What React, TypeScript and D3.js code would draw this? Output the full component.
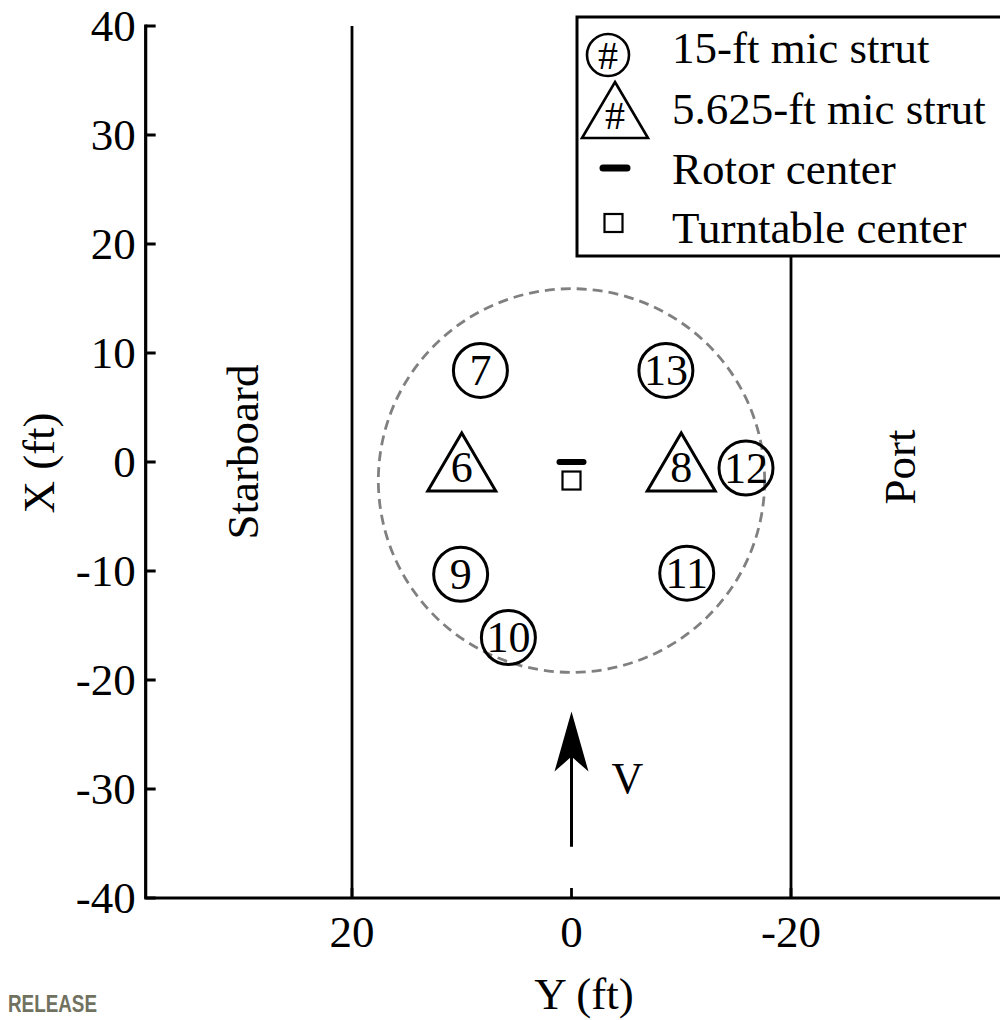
import React from "react";
import * as d3 from "d3";

// Microphone strut layout in the wind-tunnel test section (Y lateral, X streamwise)
const strut15ft = [
  { id: "7", y: 8.3, x: 8.4 },
  { id: "13", y: -8.6, x: 8.4 },
  { id: "12", y: -15.9, x: -0.55 },
  { id: "9", y: 10.1, x: -10.3 },
  { id: "11", y: -10.5, x: -10.2 },
  { id: "10", y: 5.75, x: -16.1 },
];
const strut5ft = [
  { id: "6", y: 10.0, x: 0 },
  { id: "8", y: -10.0, x: 0 },
];
const rotorCenter = { y: 0, x: 0 };
const turntableCenter = { y: 0, x: -1.7 };
const turntableRadius = 17.6;
const wallY = [20, -20];
const xTickValues = [20, 0, -20];
const yTickValues = [40, 30, 20, 10, 0, -10, -20, -30, -40];
const flowArrow = { y: 0, from: -35.3, to: -22.9 };
const legendItems = ["15-ft mic strut", "5.625-ft mic strut", "Rotor center", "Turntable center"];

const W = 1000;
const H = 1020;
const FONT = "'Liberation Serif', 'Times New Roman', Times, serif";

export default function App() {
  const sx = d3.scaleLinear().domain([20, -20]).range([352, 791]);
  const sy = d3.scaleLinear().domain([40, -40]).range([26, 898]);
  const axisLeftX = sx(38.8);
  const axisRightX = sx(-41);
  const yTop = sy(40);
  const yBottom = sy(-40);

  const r15 = 27;
  const triW = 68;
  const triH = 58;
  const triPath = (cx: number, cy: number, w: number, h: number) =>
    `M${cx},${cy - h / 2}L${cx + w / 2},${cy + h / 2}L${cx - w / 2},${cy + h / 2}Z`;

  const tcx = sx(turntableCenter.y);
  const tcy = sy(turntableCenter.x);
  const rx = Math.abs(sx(turntableRadius) - sx(0));
  const ry = Math.abs(sy(turntableRadius) - sy(0));

  const ax = sx(flowArrow.y);
  const aTip = sy(flowArrow.to);
  const aBase = sy(flowArrow.from);

  const legX = 577;
  const legTop = 17;
  const legBottom = 256;
  const legRows = [63, 124, 184, 243];
  const symX = 610;

  return (
    <svg
      width={W}
      height={H}
      style={{ position: "absolute", left: 0, top: 0, background: "#fff" }}
      fontFamily={FONT}
    >
      <rect width={W} height={H} fill="#fff" />

      {/* tunnel walls */}
      {wallY.map((v) => (
        <line key={v} x1={sx(v)} x2={sx(v)} y1={yTop} y2={yBottom} stroke="#000" strokeWidth={2.8} />
      ))}

      {/* turntable outline */}
      <ellipse cx={tcx} cy={tcy} rx={rx} ry={ry} fill="none" stroke="#808080" strokeWidth={2.8} strokeDasharray="10,6" />

      {/* axes */}
      <line x1={axisLeftX} x2={axisLeftX} y1={yTop - 1.5} y2={yBottom} stroke="#000" strokeWidth={3.2} />
      <line x1={axisLeftX - 1.5} x2={axisRightX} y1={yBottom} y2={yBottom} stroke="#000" strokeWidth={3.2} />
      {yTickValues.map((v) => (
        <g key={v}>
          <line x1={axisLeftX} x2={axisLeftX + 10} y1={sy(v)} y2={sy(v)} stroke="#000" strokeWidth={3} />
          <text x={axisLeftX - 10} y={sy(v) + 15} textAnchor="end" fontSize={45}>
            {v}
          </text>
        </g>
      ))}
      {xTickValues.map((v) => (
        <g key={v}>
          <line x1={sx(v)} x2={sx(v)} y1={yBottom} y2={yBottom - 10} stroke="#000" strokeWidth={2.8} />
          <text x={sx(v)} y={yBottom + 49} textAnchor="middle" fontSize={45}>
            {v}
          </text>
        </g>
      ))}

      {/* axis titles */}
      <text x={584} y={1009} textAnchor="middle" fontSize={45}>Y (ft)</text>
      <text transform={`translate(54,463) rotate(-90)`} textAnchor="middle" fontSize={45}>X (ft)</text>
      <text transform={`translate(258,452) rotate(-90)`} textAnchor="middle" fontSize={45}>Starboard</text>
      <text transform={`translate(915,467) rotate(-90)`} textAnchor="middle" fontSize={45}>Port</text>

      {/* 15-ft struts */}
      {strut15ft.map((d) => (
        <g key={d.id} transform={`translate(${sx(d.y)},${sy(d.x)})`}>
          <circle r={r15} fill="none" stroke="#000" strokeWidth={3} />
          <text y={15} textAnchor="middle" fontSize={44}>{d.id}</text>
        </g>
      ))}

      {/* 5.625-ft struts */}
      {strut5ft.map((d) => (
        <g key={d.id}>
          <path d={triPath(sx(d.y), sy(d.x), triW, triH)} fill="none" stroke="#000" strokeWidth={3} strokeLinejoin="miter" />
          <text x={sx(d.y)} y={sy(d.x) + 20} textAnchor="middle" fontSize={44}>{d.id}</text>
        </g>
      ))}

      {/* rotor and turntable centers */}
      <line x1={sx(rotorCenter.y) - 12} x2={sx(rotorCenter.y) + 12} y1={sy(rotorCenter.x)} y2={sy(rotorCenter.x)} stroke="#000" strokeWidth={6} strokeLinecap="round" />
      <rect x={tcx - 9} y={tcy - 9} width={18} height={18} fill="#fff" stroke="#000" strokeWidth={2.2} />

      {/* free-stream velocity arrow */}
      <line x1={ax} x2={ax} y1={aBase} y2={aTip + 40} stroke="#000" strokeWidth={3} />
      <path d={`M${ax},${aTip}L${ax + 17},${aTip + 60}L${ax},${aTip + 45}L${ax - 17},${aTip + 60}Z`} fill="#000" />
      <text x={sx(-5.1)} y={sy(-30.4)} textAnchor="middle" fontSize={44}>V</text>

      {/* legend */}
      <rect x={legX} y={legTop} width={W - legX + 20} height={legBottom - legTop} fill="#fff" stroke="#000" strokeWidth={3} />
      <g>
        <circle cx={symX - 2} cy={55} r={21} fill="none" stroke="#000" strokeWidth={2.6} />
        <text x={symX - 2} y={69} textAnchor="middle" fontSize={40}>#</text>
        <path d={triPath(615, 110, 66, 56)} fill="none" stroke="#000" strokeWidth={2.6} />
        <text x={615} y={129} textAnchor="middle" fontSize={40}>#</text>
        <line x1={603} x2={627} y1={168} y2={168} stroke="#000" strokeWidth={7} strokeLinecap="round" />
        <rect x={604.5} y={214} width={18} height={18} fill="#fff" stroke="#000" strokeWidth={2.2} />
        {legendItems.map((t, i) => (
          <text key={t} x={672} y={legRows[i]} fontSize={45}>{t}</text>
        ))}
      </g>

      <text x={8} y={1012} fontFamily="'Liberation Sans', Arial, sans-serif" fontWeight="bold" fontSize={24} fill="#70725f" textLength={89} lengthAdjust="spacingAndGlyphs">
        RELEASE
      </text>
    </svg>
  );
}
